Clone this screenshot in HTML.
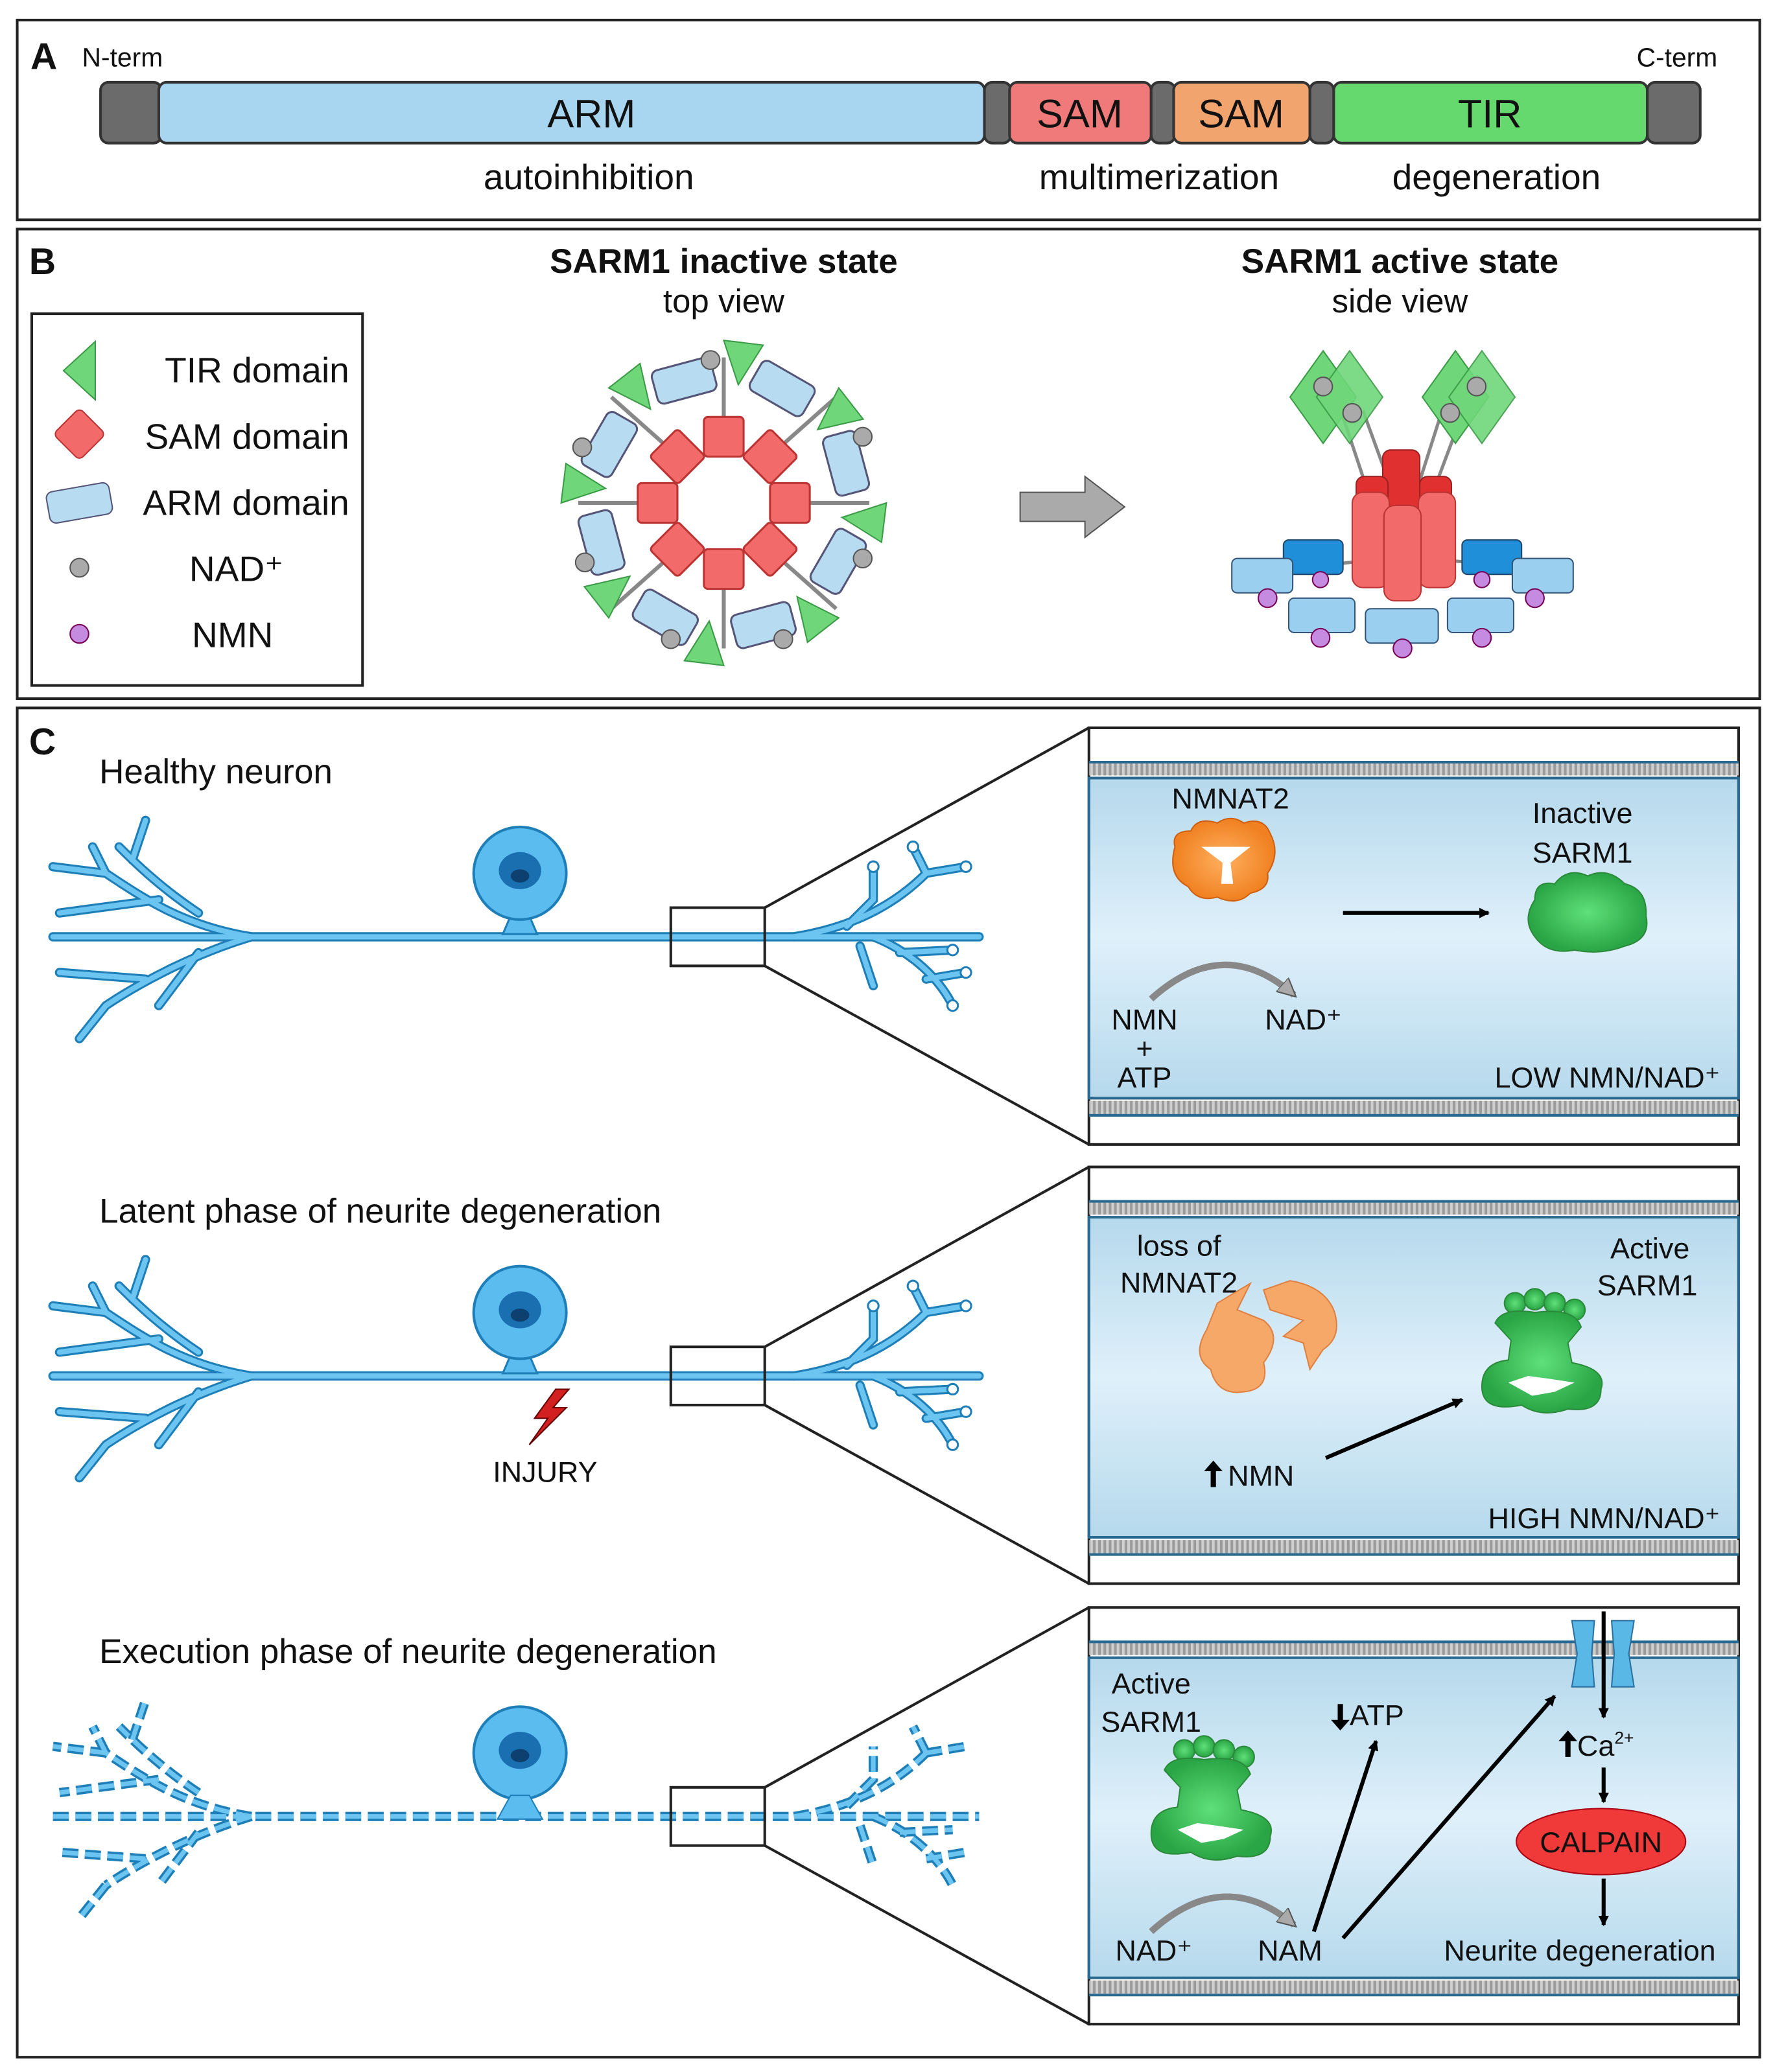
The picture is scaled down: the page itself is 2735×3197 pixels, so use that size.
<!DOCTYPE html>
<html><head><meta charset="utf-8"><style>
html,body{margin:0;padding:0;background:#fff}
svg{display:block}
text{font-family:"Liberation Sans",Arial,sans-serif;fill:#111}
</style></head><body>
<svg width="2735" height="3197" viewBox="0 0 1340 1566" xmlns="http://www.w3.org/2000/svg">
<defs>
<linearGradient id="cyt" x1="0" y1="0" x2="0" y2="1"><stop offset="0" stop-color="#b5d9ec"/><stop offset="0.5" stop-color="#dff0fa"/><stop offset="1" stop-color="#b5d9ec"/></linearGradient>
<pattern id="mem" width="4" height="4" patternUnits="userSpaceOnUse"><rect width="4" height="4" fill="#9a9a9a"/><rect width="2" height="4" fill="#cfcfcf"/></pattern>
<marker id="ar" markerWidth="8" markerHeight="8" refX="7" refY="4" orient="auto" markerUnits="userSpaceOnUse"><path d="M0,0 L8,4 L0,8z" fill="#000"/></marker>
<marker id="arg" markerWidth="16" markerHeight="14" refX="12" refY="7" orient="auto" markerUnits="userSpaceOnUse"><path d="M0,0 L14,7 L0,14z" fill="#aaa" stroke="#555"/></marker>
<radialGradient id="grn"><stop offset="0" stop-color="#5fe07a"/><stop offset="1" stop-color="#2aa545"/></radialGradient>
<radialGradient id="org"><stop offset="0" stop-color="#ffb060"/><stop offset="1" stop-color="#f08020"/></radialGradient>
</defs>

<!-- Panel A -->
<rect x="13" y="15" width="1317" height="151" fill="#fff" stroke="#222" stroke-width="2"/>
<text x="23" y="52" font-size="28" font-weight="bold">A</text>
<text x="62" y="50" font-size="20">N-term</text>
<text x="1298" y="50" font-size="20" text-anchor="end">C-term</text>
<g stroke="#333" stroke-width="2">
<rect x="76" y="62" width="46" height="46" rx="6" fill="#6b6b6b"/>
<rect x="120" y="62" width="624" height="46" rx="6" fill="#a8d5f0"/>
<rect x="744" y="62" width="20" height="46" rx="6" fill="#6b6b6b"/>
<rect x="763" y="62" width="107" height="46" rx="6" fill="#f07a7a"/>
<rect x="870" y="62" width="18" height="46" rx="6" fill="#6b6b6b"/>
<rect x="887" y="62" width="103" height="46" rx="6" fill="#f2a46e"/>
<rect x="990" y="62" width="18" height="46" rx="6" fill="#6b6b6b"/>
<rect x="1008" y="62" width="237" height="46" rx="6" fill="#66d96e"/>
<rect x="1245" y="62" width="40" height="46" rx="6" fill="#6b6b6b"/>
</g>
<g font-size="30" text-anchor="middle"><text x="447" y="96">ARM</text><text x="816" y="96">SAM</text><text x="938" y="96">SAM</text><text x="1126" y="96">TIR</text></g>
<g font-size="27" text-anchor="middle"><text x="445" y="143">autoinhibition</text><text x="876" y="143">multimerization</text><text x="1131" y="143">degeneration</text></g>

<!-- Panel B -->
<rect x="13" y="173" width="1317" height="355" fill="#fff" stroke="#222" stroke-width="2"/>
<text x="22" y="207" font-size="28" font-weight="bold">B</text>
<text x="547" y="206" font-size="26" font-weight="bold" text-anchor="middle">SARM1 inactive state</text>
<text x="547" y="236" font-size="25" text-anchor="middle">top view</text>
<text x="1058" y="206" font-size="26" font-weight="bold" text-anchor="middle">SARM1 active state</text>
<text x="1058" y="236" font-size="25" text-anchor="middle">side view</text>
<rect x="24" y="237" width="250" height="281" fill="#fff" stroke="#222" stroke-width="2"/>
<path d="M72,258 L48,280 L72,302z" fill="#6fd77a" stroke="#3a9a45"/>
<rect x="46" y="314" width="28" height="28" rx="4" fill="#f26a6a" stroke="#b33" transform="rotate(45 60 328)"/>
<rect x="36" y="368" width="48" height="24" rx="5" fill="#b7dcf2" stroke="#557" transform="rotate(-10 60 380)"/>
<circle cx="60" cy="429" r="7" fill="#aaa" stroke="#555"/>
<circle cx="60" cy="479" r="7" fill="#c58be0" stroke="#705"/>
<g font-size="27"><text x="264" y="289" text-anchor="end">TIR domain</text><text x="264" y="339" text-anchor="end">SAM domain</text><text x="264" y="389" text-anchor="end">ARM domain</text><text x="143" y="439">NAD⁺</text><text x="145" y="489">NMN</text></g>

<g transform="translate(547,380)">
<g stroke="#888" stroke-width="3">
<line x1="0" y1="-60" x2="0" y2="-110"/><line x1="0" y1="60" x2="0" y2="110"/><line x1="-60" y1="0" x2="-110" y2="0"/><line x1="60" y1="0" x2="110" y2="0"/>
<line x1="-40" y1="-40" x2="-85" y2="-80"/><line x1="40" y1="-40" x2="85" y2="-80"/><line x1="-40" y1="40" x2="-85" y2="80"/><line x1="40" y1="40" x2="85" y2="80"/>
</g>
<g fill="#b7dcf2" stroke="#557" stroke-width="1.5">
<rect x="-28" y="-110" width="46" height="26" rx="5" transform="rotate(-15)"/>
<rect x="-28" y="-110" width="46" height="26" rx="5" transform="rotate(30)"/>
<rect x="-28" y="-110" width="46" height="26" rx="5" transform="rotate(75)"/>
<rect x="-28" y="-110" width="46" height="26" rx="5" transform="rotate(120)"/>
<rect x="-28" y="-110" width="46" height="26" rx="5" transform="rotate(165)"/>
<rect x="-28" y="-110" width="46" height="26" rx="5" transform="rotate(210)"/>
<rect x="-28" y="-110" width="46" height="26" rx="5" transform="rotate(255)"/>
<rect x="-28" y="-110" width="46" height="26" rx="5" transform="rotate(300)"/>
</g>
<g fill="#6fd77a" stroke="#3a9a45">
<path d="M-15,-122 L15,-122 L0,-90z" transform="rotate(7)"/>
<path d="M-15,-122 L15,-122 L0,-90z" transform="rotate(52)"/>
<path d="M-15,-122 L15,-122 L0,-90z" transform="rotate(97)"/>
<path d="M-15,-122 L15,-122 L0,-90z" transform="rotate(142)"/>
<path d="M-15,-122 L15,-122 L0,-90z" transform="rotate(187)"/>
<path d="M-15,-122 L15,-122 L0,-90z" transform="rotate(232)"/>
<path d="M-15,-122 L15,-122 L0,-90z" transform="rotate(277)"/>
<path d="M-15,-122 L15,-122 L0,-90z" transform="rotate(322)"/>
</g>
<g fill="#aaa" stroke="#555"><circle cx="-10" cy="-108" r="7"/><circle cx="105" cy="-50" r="7"/><circle cx="105" cy="42" r="7"/><circle cx="45" cy="103" r="7"/><circle cx="-40" cy="103" r="7"/><circle cx="-105" cy="45" r="7"/><circle cx="-107" cy="-42" r="7"/></g>
<g fill="#f26a6a" stroke="#b33" stroke-width="1.5">
<rect x="-15" y="-65" width="30" height="30" rx="3"/><rect x="-15" y="35" width="30" height="30" rx="3"/>
<rect x="-65" y="-15" width="30" height="30" rx="3"/><rect x="35" y="-15" width="30" height="30" rx="3"/>
<rect x="-15" y="-15" width="30" height="30" rx="3" transform="translate(-35,-35) rotate(45)"/>
<rect x="-15" y="-15" width="30" height="30" rx="3" transform="translate(35,-35) rotate(45)"/>
<rect x="-15" y="-15" width="30" height="30" rx="3" transform="translate(-35,35) rotate(45)"/>
<rect x="-15" y="-15" width="30" height="30" rx="3" transform="translate(35,35) rotate(45)"/>
</g>
</g>
<path d="M771,372 L820,372 L820,360 L850,383 L820,406 L820,394 L771,394z" fill="#aaa" stroke="#555"/>

<g>
<g stroke="#888" stroke-width="2.5"><line x1="1010" y1="300" x2="1050" y2="420"/><line x1="1030" y1="310" x2="1070" y2="420"/><line x1="1110" y1="300" x2="1065" y2="420"/><line x1="1090" y1="310" x2="1055" y2="420"/><line x1="980" y1="430" x2="1060" y2="420"/><line x1="1160" y1="430" x2="1060" y2="420"/></g>
<g fill="#6fd77a" stroke="#3a9a45">
<path d="M1000,265 L1025,300 L1000,335 L975,300z"/><path d="M1020,265 L1045,300 L1020,335 L995,300z" opacity=".9"/>
<path d="M1100,265 L1125,300 L1100,335 L1075,300z"/><path d="M1120,265 L1145,300 L1120,335 L1095,300z" opacity=".9"/>
</g>
<g fill="#aaa" stroke="#555"><circle cx="1000" cy="292" r="7"/><circle cx="1022" cy="312" r="7"/><circle cx="1116" cy="292" r="7"/><circle cx="1096" cy="312" r="7"/></g>
<g fill="#1e8fd8" stroke="#246"><rect x="970" y="408" width="45" height="26" rx="4"/><rect x="1105" y="408" width="45" height="26" rx="4"/></g>
<g fill="#e03030" stroke="#922"><rect x="1045" y="340" width="28" height="70" rx="6"/><rect x="1025" y="360" width="24" height="70" rx="6"/><rect x="1073" y="360" width="24" height="70" rx="6"/></g>
<g fill="#f26a6a" stroke="#b33"><rect x="1022" y="372" width="28" height="72" rx="8"/><rect x="1072" y="372" width="28" height="72" rx="8"/><rect x="1046" y="382" width="28" height="72" rx="8"/></g>
<g fill="#9bcff0" stroke="#357"><rect x="931" y="422" width="46" height="26" rx="4"/><rect x="1143" y="422" width="46" height="26" rx="4"/><rect x="974" y="452" width="50" height="26" rx="4"/><rect x="1032" y="460" width="55" height="26" rx="4"/><rect x="1094" y="452" width="50" height="26" rx="4"/></g>
<g fill="#c58be0" stroke="#705"><circle cx="958" cy="452" r="7"/><circle cx="1160" cy="452" r="7"/><circle cx="998" cy="482" r="7"/><circle cx="1060" cy="490" r="7"/><circle cx="1120" cy="482" r="7"/><circle cx="998" cy="438" r="6"/><circle cx="1120" cy="438" r="6"/></g>
</g>

<!-- Panel C -->
<rect x="13" y="535" width="1317" height="1020" fill="#fff" stroke="#222" stroke-width="2"/>
<text x="22" y="570" font-size="28" font-weight="bold">C</text>
<text x="75" y="592" font-size="26">Healthy neuron</text>
<text x="75" y="924" font-size="26">Latent phase of neurite degeneration</text>
<text x="75" y="1257" font-size="26">Execution phase of neurite degeneration</text>

<defs>
<g id="dend">
<path d="M40,708 L740,708"/>
<path d="M190,708 C140,700 110,680 80,660 M80,660 L40,655 M80,660 L70,640 M150,690 C120,670 100,650 90,640 M120,680 L45,690 M190,708 C150,720 110,740 80,760 M80,760 L60,785 M110,740 L45,735 M150,720 L120,760 M100,650 L110,620"/>
<path d="M600,708 C650,700 680,680 700,660 M700,660 L690,640 M700,660 L730,655 M640,700 L660,680 L660,655 M660,708 C690,720 710,740 720,760 M680,720 L720,718 M700,740 L730,735 M650,715 L660,745"/>
</g>
<g id="neu">
<use href="#dend" fill="none" stroke="#1e7fb8" stroke-width="7" stroke-linecap="round"/>
<use href="#dend" fill="none" stroke="#6cc4f0" stroke-width="4" stroke-linecap="round"/>
<g fill="#fff" stroke="#1e7fb8" stroke-width="1.5"><circle cx="730" cy="655" r="4"/><circle cx="730" cy="735" r="4"/><circle cx="720" cy="760" r="4"/><circle cx="690" cy="640" r="4"/><circle cx="660" cy="655" r="4"/><circle cx="720" cy="718" r="4"/></g>
<path d="M386,692 L380,706 L406,706 L400,692z" fill="#5bbcef" stroke="#1e7fb8" stroke-width="1.5"/>
<circle cx="393" cy="660" r="35" fill="#5bbcef" stroke="#1e7fb8" stroke-width="2"/>
<ellipse cx="393" cy="658" rx="16" ry="14" fill="#1a6fb0"/>
<ellipse cx="393" cy="662" rx="7" ry="5" fill="#0d3f6f"/>
</g>
<g id="zb">
<rect x="823" y="550" width="491" height="315" fill="#fff" stroke="#222" stroke-width="2"/>
<rect x="823" y="576" width="491" height="10" fill="url(#mem)"/>
<line x1="823" y1="576" x2="1314" y2="576" stroke="#2a6a90" stroke-width="2"/>
<rect x="823" y="588" width="491" height="242" fill="url(#cyt)" stroke="#2a6a90" stroke-width="2"/>
<rect x="823" y="832" width="491" height="10" fill="url(#mem)"/>
<line x1="823" y1="843" x2="1314" y2="843" stroke="#2a6a90" stroke-width="2"/>
<rect x="507" y="686" width="71" height="44" fill="none" stroke="#222" stroke-width="2"/>
<line x1="578" y1="686" x2="823" y2="550" stroke="#222" stroke-width="2"/>
<line x1="578" y1="730" x2="823" y2="865" stroke="#222" stroke-width="2"/>
</g>
</defs>
<use href="#neu"/>
<use href="#zb"/>
<use href="#neu" transform="translate(0,332)"/>
<use href="#zb" transform="translate(0,332)"/>
<g transform="translate(0,665)">
<use href="#dend" fill="none" stroke="#1e7fb8" stroke-width="7" stroke-dasharray="12 5"/>
<use href="#dend" fill="none" stroke="#6cc4f0" stroke-width="3.5" stroke-dasharray="12 5"/>
<circle cx="393" cy="660" r="35" fill="#5bbcef" stroke="#1e7fb8" stroke-width="2"/>
<ellipse cx="393" cy="658" rx="16" ry="14" fill="#1a6fb0"/><ellipse cx="393" cy="662" rx="7" ry="5" fill="#0d3f6f"/>
<path d="M386,692 L376,710 L410,710 L400,692z" fill="#5bbcef" stroke="#1e7fb8"/>
</g>
<use href="#zb" transform="translate(0,665)"/>

<path d="M420,1050 L404,1072 L414,1072 L400,1092 L428,1064 L418,1064 L430,1050z" fill="#d21f1f" stroke="#600"/>
<text x="412" y="1120" font-size="22" text-anchor="middle">INJURY</text>

<g font-size="22">
<text x="930" y="611" text-anchor="middle">NMNAT2</text>
<path d="M888,640 Q885,628 900,628 Q905,617 920,622 Q930,615 940,622 Q955,617 960,630 Q968,645 958,660 Q960,672 945,675 Q935,685 920,678 Q905,682 898,670 Q882,662 888,640z" fill="url(#org)" stroke="#d06010"/>
<path d="M908,640 L945,640 L930,652 L932,668 L923,668 L924,652z" fill="#fff"/>
<path d="M870,755 Q925,705 978,752" fill="none" stroke="#888" stroke-width="5" marker-end="url(#arg)"/>
<text x="865" y="778" text-anchor="middle">NMN</text><text x="865" y="800" text-anchor="middle">+</text><text x="865" y="822" text-anchor="middle">ATP</text>
<text x="956" y="778">NAD⁺</text>
<line x1="1015" y1="690" x2="1125" y2="690" stroke="#000" stroke-width="3" marker-end="url(#ar)"/>
<text x="1196" y="622" text-anchor="middle">Inactive</text><text x="1196" y="652" text-anchor="middle">SARM1</text>
<path d="M1160,680 Q1160,665 1175,668 Q1185,655 1200,662 Q1215,655 1228,668 Q1245,672 1244,692 Q1248,710 1228,715 Q1210,722 1190,718 Q1170,722 1160,708 Q1150,695 1160,680z" fill="url(#grn)" stroke="#2a8a3a"/>
<text x="1300" y="822" text-anchor="end">LOW NMN/NAD⁺</text>
</g>

<g font-size="22">
<text x="891" y="949" text-anchor="middle">loss of</text><text x="891" y="977" text-anchor="middle">NMNAT2</text>
<path d="M920,985 L945,970 L935,990 L955,998 Q970,1010 955,1030 Q960,1050 940,1052 Q920,1055 915,1035 Q900,1025 912,1005z" fill="#f5a868" stroke="#e08040"/>
<path d="M955,975 L975,968 Q1000,972 1008,990 Q1015,1010 1000,1020 L990,1035 L985,1015 L970,1010 L985,998 L960,990z" fill="#f5a868" stroke="#e08040"/>
<text x="1247" y="951" text-anchor="middle">Active</text><text x="1245" y="979" text-anchor="middle">SARM1</text>
<g id="act">
<g fill="url(#grn)" stroke="#2a8a3a"><circle cx="1145" cy="985" r="8"/><circle cx="1160" cy="982" r="8"/><circle cx="1175" cy="985" r="8"/><circle cx="1190" cy="990" r="8"/>
<path d="M1130,1000 Q1135,988 1160,992 Q1190,988 1195,1003 L1185,1015 L1188,1030 Q1215,1035 1210,1050 Q1210,1068 1185,1065 Q1165,1072 1150,1062 Q1120,1068 1120,1048 Q1120,1030 1140,1028 L1142,1013z"/></g>
<path d="M1140,1045 L1155,1040 L1170,1042 L1190,1045 L1175,1052 L1158,1055z" fill="#fff"/>
</g>
<line x1="1002" y1="1102" x2="1105" y2="1058" stroke="#000" stroke-width="3" marker-end="url(#ar)"/>
<path d="M915,1124 L915,1112 L910,1112 L917,1104 L924,1112 L919,1112 L919,1124z" fill="#000"/>
<text x="928" y="1123">NMN</text>
<text x="1300" y="1155" text-anchor="end">HIGH NMN/NAD⁺</text>
</g>

<g font-size="22">
<text x="870" y="1280" text-anchor="middle">Active</text><text x="870" y="1309" text-anchor="middle">SARM1</text>
<use href="#act" transform="translate(-250,338)"/>
<path d="M870,1460 Q925,1410 978,1455" fill="none" stroke="#888" stroke-width="5" marker-end="url(#arg)"/>
<text x="872" y="1482" text-anchor="middle">NAD⁺</text>
<text x="975" y="1482" text-anchor="middle">NAM</text>
<line x1="993" y1="1460" x2="1040" y2="1316" stroke="#000" stroke-width="3" marker-end="url(#ar)"/>
<line x1="1015" y1="1465" x2="1175" y2="1282" stroke="#000" stroke-width="3" marker-end="url(#ar)"/>
<path d="M1011,1288 L1011,1300 L1006,1300 L1013,1308 L1020,1300 L1015,1300 L1015,1288z" fill="#000"/>
<text x="1020" y="1304">ATP</text>
<path d="M1188,1225 L1205,1225 L1203,1250 L1205,1275 L1188,1275 L1192,1250z" fill="#5ab8e6" stroke="#2a70a0"/>
<path d="M1218,1225 L1235,1225 L1231,1250 L1235,1275 L1218,1275 L1220,1250z" fill="#5ab8e6" stroke="#2a70a0"/>
<line x1="1212" y1="1218" x2="1212" y2="1298" stroke="#000" stroke-width="3" marker-end="url(#ar)"/>
<path d="M1183,1328 L1183,1316 L1178,1316 L1185,1308 L1192,1316 L1187,1316 L1187,1328z" fill="#000"/>
<text x="1192" y="1327">Ca<tspan font-size="13" dy="-9">2+</tspan></text>
<line x1="1212" y1="1336" x2="1212" y2="1362" stroke="#000" stroke-width="3" marker-end="url(#ar)"/>
<ellipse cx="1210" cy="1392" rx="64" ry="25" fill="#f03a3a" stroke="#a01"/>
<text x="1210" y="1400" text-anchor="middle">CALPAIN</text>
<line x1="1212" y1="1420" x2="1212" y2="1455" stroke="#000" stroke-width="3" marker-end="url(#ar)"/>
<text x="1194" y="1482" text-anchor="middle">Neurite degeneration</text>
</g>
</svg>
</body></html>
